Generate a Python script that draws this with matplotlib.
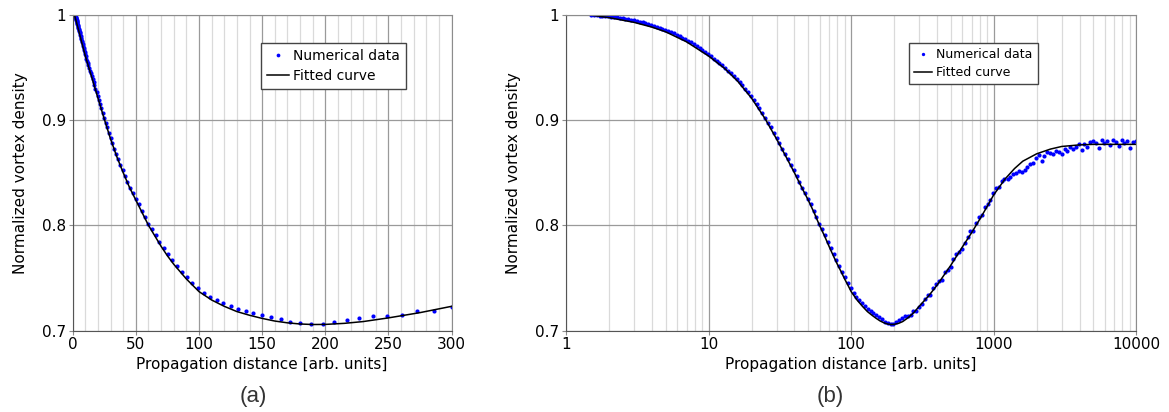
import matplotlib
matplotlib.use('Agg')
import matplotlib.pyplot as plt
from matplotlib.ticker import MultipleLocator, LogLocator, FuncFormatter, NullFormatter

# numerical data (same run drawn on linear and log axes)
dist = [1.50, 1.57, 1.65, 1.72, 1.80, 1.89, 1.98, 2.07, 2.17, 2.27, 2.38, 2.49, 2.61, 2.73, 2.86,
        3.00, 3.14, 3.29, 3.44, 3.60, 3.77, 3.95, 4.14, 4.33, 4.54, 4.75, 4.98, 5.21, 5.46, 5.71,
        5.98, 6.26, 6.56, 6.87, 7.19, 7.53, 7.89, 8.26, 8.65, 9.05, 9.48, 9.93,
        10.4, 10.9, 11.4, 11.9, 12.5, 13.1, 13.7, 14.3, 15.0, 15.7, 16.5, 17.2, 18.0, 18.9, 19.8,
        20.7, 21.7, 22.7, 23.8, 24.9, 26.1, 27.3, 28.6, 30.0, 31.4, 32.9, 34.4, 36.0, 37.7, 39.5,
        41.4, 43.3, 45.4, 47.5, 49.8, 52.1, 54.6, 57.1, 59.8, 62.6, 65.6, 68.7, 71.9, 75.3, 78.9,
        82.6, 86.5, 90.5, 94.8, 99.3,
        104, 109, 114, 119, 125, 131, 137, 143, 150, 157, 165, 172, 180, 189, 198, 207, 217, 227,
        238, 249, 261, 273, 286, 300, 314, 329, 344, 360, 377, 395, 414, 433, 454, 475, 498, 521,
        546, 571, 598, 626, 656, 687, 719, 753, 789, 826, 865, 905, 948, 993,
        1040, 1090, 1140, 1190, 1250, 1310, 1370, 1430, 1500, 1570, 1650, 1720, 1800, 1890, 1980,
        2070, 2170, 2270, 2380, 2490, 2610, 2730, 2860, 3000, 3140, 3290, 3440, 3600, 3770, 3950,
        4140, 4330, 4540, 4750, 4980, 5210, 5460, 5710, 5980, 6260, 6560, 6870, 7190, 7530, 7890,
        8260, 8650, 9050, 9480, 9930]
density = [1.0000, 0.9998, 0.9997, 0.9995, 0.9992, 0.9990, 0.9988, 0.9985, 0.9981, 0.9978,
           0.9973, 0.9969, 0.9964, 0.9959, 0.9953, 0.9948, 0.9942, 0.9936, 0.9929, 0.9923,
           0.9915, 0.9907, 0.9899, 0.9890, 0.9881, 0.9871, 0.9861, 0.9850, 0.9838, 0.9826,
           0.9813, 0.9800, 0.9786, 0.9771, 0.9756, 0.9740, 0.9723, 0.9706, 0.9688, 0.9669,
           0.9648, 0.9627,
           0.9607, 0.9586, 0.9565, 0.9544, 0.9520, 0.9496, 0.9472, 0.9448, 0.9420, 0.9392,
           0.9360, 0.9332, 0.9300, 0.9264, 0.9228, 0.9192, 0.9152, 0.9112, 0.9068, 0.9024,
           0.8976, 0.8931, 0.8881, 0.8828, 0.8780, 0.8729, 0.8678, 0.8628, 0.8577, 0.8523,
           0.8469, 0.8416, 0.8358, 0.8310, 0.8255, 0.8200, 0.8140, 0.8082, 0.8017, 0.7963,
           0.7906, 0.7846, 0.7786, 0.7725, 0.7670, 0.7616, 0.7561, 0.7506, 0.7454, 0.7400,
           0.7360, 0.7320, 0.7291, 0.7261, 0.7233, 0.7207, 0.7186, 0.7166, 0.7145, 0.7126,
           0.7107, 0.7083, 0.7070, 0.7062, 0.7061, 0.7078, 0.7100, 0.7117, 0.7139, 0.7138,
           0.7147, 0.7181, 0.7188, 0.7224, 0.7253, 0.7298, 0.7338, 0.7340, 0.7404, 0.7440,
           0.7467, 0.7483, 0.7553, 0.7578, 0.7606, 0.7676, 0.7728, 0.7751, 0.7777, 0.7836,
           0.7888, 0.7942, 0.7945, 0.8019, 0.8076, 0.8101, 0.8178, 0.8206, 0.8243, 0.8312,
           0.8355, 0.8368, 0.8425, 0.8443, 0.8445, 0.8460, 0.8485, 0.8501, 0.8515, 0.8510,
           0.8524, 0.8551, 0.8585, 0.8591, 0.8637, 0.8666, 0.8615, 0.8664, 0.8694, 0.8684,
           0.8681, 0.8707, 0.8693, 0.8680, 0.8722, 0.8704, 0.8747, 0.8729, 0.8742, 0.8769,
           0.8716, 0.8777, 0.8748, 0.8789, 0.8800, 0.8780, 0.8740, 0.8810, 0.8780, 0.8800,
           0.8760, 0.8810, 0.8790, 0.8750, 0.8810, 0.8780, 0.8800, 0.8740, 0.8790, 0.8800]

# fitted curve
fit_x = [1.47, 2, 3, 4, 5, 7, 10, 13, 16, 20, 25, 30, 35, 40, 45, 50, 55, 60, 65, 70, 75, 80,
         85, 90, 95, 100, 110, 120, 130, 140, 150, 160, 170, 180, 190, 200, 215, 230, 250, 275,
         300, 350, 400, 500, 600, 700, 800, 900, 1000, 1200, 1400, 1600, 2000, 2500, 3000, 4000,
         5000, 7000, 10000]
fit_y = [1.000, 0.9975, 0.993, 0.9885, 0.984, 0.9745, 0.961, 0.949, 0.937, 0.921, 0.901, 0.882,
         0.865, 0.850, 0.836, 0.824, 0.812, 0.800, 0.790, 0.780, 0.771, 0.763, 0.756, 0.749,
         0.743, 0.737, 0.729, 0.723, 0.718, 0.7145, 0.7115, 0.709, 0.7073, 0.7062, 0.7057,
         0.7058, 0.7068, 0.7085, 0.712, 0.717, 0.723, 0.733, 0.743, 0.762, 0.779, 0.793, 0.806,
         0.818, 0.829, 0.844, 0.854, 0.861, 0.868, 0.8725, 0.875, 0.8765, 0.877, 0.877, 0.877]

yticks = [0.7, 0.8, 0.9, 1.0]
lin_ticks = [0, 50, 100, 150, 200, 250, 300]
log_ticks = [1, 10, 100, 1000, 10000]

plt.rcParams['font.family'] = 'DejaVu Sans'
fig = plt.figure(figsize=(11.69, 4.12), dpi=100)
ax1 = fig.add_axes([0.0622, 0.1978, 0.3241, 0.7658])
ax2 = fig.add_axes([0.4842, 0.1978, 0.4878, 0.7658])


def style(ax):
    ax.set_ylim(0.7, 1.0)
    ax.set_yticks(yticks)
    ax.yaxis.set_major_formatter(FuncFormatter(lambda v, p: '%g' % round(v, 2)))
    ax.grid(which='major', color='#9a9a9a', lw=0.9)
    ax.grid(which='minor', axis='x', color='#dadada', lw=0.9)
    ax.set_axisbelow(True)
    for s in ax.spines.values():
        s.set_color('#8c8c8c')
    ax.spines['left'].set_color('#555555')
    ax.spines['bottom'].set_color('#555555')
    ax.tick_params(which='both', length=3, color='#8c8c8c', labelsize=11, pad=2)
    ax.tick_params(which='minor', length=0)
    ax.set_xlabel('Propagation distance [arb. units]', fontsize=11, labelpad=3)
    ax.set_ylabel('Normalized vortex density', fontsize=11, labelpad=10)


# (a) linear axis
ax1.plot(dist, density, 'o', color='#0000ff', ms=3.0, mec='none', label='Numerical data')
ax1.plot(fit_x, fit_y, '-', color='black', lw=1.1, label='Fitted curve')
ax1.set_xlim(0, 300)
ax1.set_xticks(lin_ticks)
ax1.xaxis.set_minor_locator(MultipleLocator(10))
style(ax1)
ax1.legend(loc='upper right', bbox_to_anchor=(0.879, 0.910), borderaxespad=0, fontsize=10,
           fancybox=False, edgecolor='#444444', framealpha=1, handlelength=1.6,
           handletextpad=0.3, borderpad=0.4, labelspacing=0.45, markerscale=0.9)

# (b) log axis
ax2.plot(dist, density, 'o', color='#0000ff', ms=3.0, mec='none', label='Numerical data')
ax2.plot(fit_x, fit_y, '-', color='black', lw=1.1, label='Fitted curve')
ax2.set_xscale('log')
ax2.set_xlim(1, 10000)
ax2.set_xticks(log_ticks)
ax2.xaxis.set_major_formatter(FuncFormatter(lambda v, p: '%d' % v))
ax2.xaxis.set_minor_locator(LogLocator(base=10, subs=range(2, 10)))
ax2.xaxis.set_minor_formatter(NullFormatter())
style(ax2)
ax2.legend(loc='upper right', bbox_to_anchor=(0.827, 0.910), borderaxespad=0, fontsize=9,
           fancybox=False, edgecolor='#444444', framealpha=1, handlelength=1.5,
           handletextpad=0.3, borderpad=0.4, labelspacing=0.4, markerscale=0.8)

fig.text(0.2164, 0.025, '(a)', fontsize=16, color='#333333', ha='center',
         family=['Liberation Sans', 'DejaVu Sans'])
fig.text(0.7100, 0.025, '(b)', fontsize=16, color='#333333', ha='center',
         family=['Liberation Sans', 'DejaVu Sans'])

fig.savefig('out.png', dpi=100)
